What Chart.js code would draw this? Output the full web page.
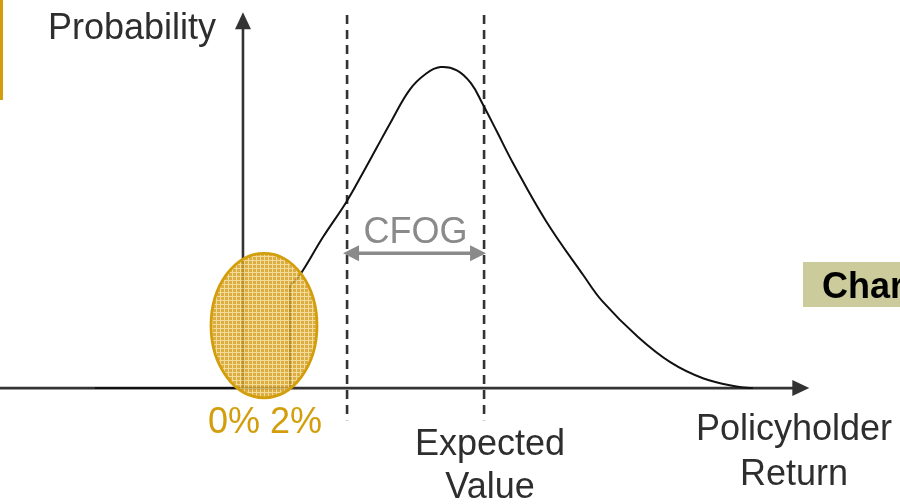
<!DOCTYPE html>
<html>
<head>
<meta charset="utf-8">
<script src="https://cdn.jsdelivr.net/npm/chart.js@4/dist/chart.umd.min.js"></script>
<style>
  body { margin: 0; background: #fff; }
  #wrap { width: 900px; height: 504px; position: relative; }
</style>
</head>
<body>
<div id="wrap"><canvas id="myChart"></canvas></div>
<script>
// policyholder return (%) and probability (peak = 1)
const tailReturn = [-6.3, 0, 2, 2]
const tailProb = [0, 0, 0, 0.32]
const curveReturn = [2, 2.4, 3.4, 4.4, 5.1, 5.7, 6.3, 7.1, 7.8, 8.4, 9.1, 9.7, 10.2, 10.8, 11.5, 12.9, 14.5, 15.3, 16.8, 18.2, 19.6, 21.0, 21.7]
const curveProb = [0.32, 0.35, 0.47, 0.58, 0.67, 0.75, 0.83, 0.93, 0.98, 1.0, 0.99, 0.95, 0.885, 0.80, 0.70, 0.52, 0.35, 0.27, 0.16, 0.08, 0.03, 0.005, 0]

const guaranteeLabels = ["0%", "2%"]
const cfogStart = 4.43
const expectedValue = 10.26
const highlightX = [-1.36, 3.15]
const highlightY = [-0.03, 0.42]

const FONT = '"Liberation Sans", Arial, sans-serif'
const GOLD = "#d39e0c"

function toPts(xs, ys){ return xs.map((x, i) => ({x: x, y: ys[i]})) }

function head(ctx, x, y, dx, dy, len, half){
  // arrow tip at x,y pointing in direction dx,dy
  const px = -dy, py = dx
  ctx.beginPath()
  ctx.moveTo(x, y)
  ctx.lineTo(x - dx*len + px*half, y - dy*len + py*half)
  ctx.lineTo(x - dx*len - px*half, y - dy*len - py*half)
  ctx.closePath()
  ctx.fill()
}

function makePattern(ctx){
  const c = document.createElement("canvas")
  c.width = 4; c.height = 4
  const p = c.getContext("2d")
  p.fillStyle = "#d6a020"
  p.fillRect(0, 0, 4, 4)
  p.fillStyle = "#f0d58a"
  p.fillRect(0, 0, 4, 1)
  p.fillRect(0, 0, 1, 4)
  return ctx.createPattern(c, "repeat")
}

const diagram = {
  id: "diagram",
  beforeDatasetsDraw(chart){
    const ctx = chart.ctx, xs = chart.scales.x, ys = chart.scales.y
    const X = v => xs.getPixelForValue(v), Y = v => ys.getPixelForValue(v)
    ctx.save()
    // left gold bar
    ctx.fillStyle = GOLD
    ctx.fillRect(0, 0, 3, 100)
    // dashed lines
    ctx.strokeStyle = "#333"
    ctx.lineWidth = 2.6
    ctx.setLineDash([9, 6])
    ;[cfogStart, expectedValue].forEach(v => {
      ctx.beginPath()
      ctx.moveTo(X(v), Y(1.162))
      ctx.lineTo(X(v), Y(-0.1))
      ctx.stroke()
    })
    ctx.setLineDash([])
    // axes
    ctx.strokeStyle = "#333"
    ctx.fillStyle = "#333"
    ctx.lineWidth = 2.6
    ctx.beginPath()
    ctx.moveTo(0, Y(0)); ctx.lineTo(X(23.6), Y(0))
    ctx.moveTo(X(0), Y(0)); ctx.lineTo(X(0), Y(1.13))
    ctx.stroke()
    head(ctx, X(24.1), Y(0), 1, 0, 17, 8)
    head(ctx, X(0), Y(1.171), 0, -1, 17, 8)
    // CFOG arrow
    const ay = Y(0.42)
    ctx.strokeStyle = "#8a8a8a"
    ctx.fillStyle = "#8a8a8a"
    ctx.lineWidth = 3.5
    ctx.beginPath()
    ctx.moveTo(X(cfogStart) + 8, ay); ctx.lineTo(X(expectedValue) - 8, ay)
    ctx.stroke()
    head(ctx, X(cfogStart) - 4, ay, -1, 0, 16, 8)
    head(ctx, X(expectedValue) + 2, ay, 1, 0, 16, 8)
    ctx.restore()
  },
  afterDatasetsDraw(chart){
    const ctx = chart.ctx, xs = chart.scales.x, ys = chart.scales.y
    const X = v => xs.getPixelForValue(v), Y = v => ys.getPixelForValue(v)
    ctx.save()
    // highlight ellipse round the guarantee
    const x0 = X(highlightX[0]), x1 = X(highlightX[1])
    const y0 = Y(highlightY[1]), y1 = Y(highlightY[0])
    ctx.beginPath()
    ctx.ellipse((x0+x1)/2, (y0+y1)/2, (x1-x0)/2, (y1-y0)/2, 0, 0, Math.PI*2)
    ctx.globalAlpha = 0.85
    ctx.fillStyle = makePattern(ctx)
    ctx.fill()
    ctx.globalAlpha = 1
    ctx.strokeStyle = GOLD
    ctx.lineWidth = 2.8
    ctx.stroke()
    // texts
    ctx.textAlign = "center"
    ctx.textBaseline = "alphabetic"
    ctx.font = "36px " + FONT
    ctx.fillStyle = "#2e2e2e"
    ctx.fillText("Probability", 132, 39)
    ctx.fillText("Expected", X(expectedValue) + 6, 455)
    ctx.fillText("Value", X(expectedValue) + 6, 498)
    ctx.fillText("Policyholder", 794, 440)
    ctx.fillText("Return", 794, 485)
    ctx.fillStyle = "#8a8a8a"
    ctx.fillText("CFOG", (X(cfogStart) + X(expectedValue))/2, 243)
    ctx.fillStyle = GOLD
    ctx.textAlign = "left"
    ctx.fillText(guaranteeLabels[0] + " " + guaranteeLabels[1], 208, 433)
    // side box
    ctx.fillStyle = "#cbcb9b"
    ctx.fillRect(803, 262, 100, 45)
    ctx.fillStyle = "#000"
    ctx.font = "bold 36px " + FONT
    ctx.fillText("Char", 822, 298)
    ctx.restore()
  }
}

window.onload = function(){
  const ctx = document.getElementById("myChart")
  new Chart(ctx, {
    type: "line",
    data: {
      datasets: [{
        data: toPts(tailReturn, tailProb),
        borderColor: "#111",
        borderWidth: 2,
        pointRadius: 0,
        tension: 0,
        fill: false
      }, {
        data: toPts(curveReturn, curveProb),
        borderColor: "#111",
        borderWidth: 2,
        pointRadius: 0,
        tension: 0.4,
        fill: false
      }]
    },
    options: {
      responsive: true,
      maintainAspectRatio: false,
      animation: false,
      layout: {padding: 0},
      scales: {
        x: {type: "linear", min: -10.34, max: 27.96, display: false},
        y: {type: "linear", min: -0.361, max: 1.209, display: false}
      },
      plugins: {legend: {display: false}, tooltip: {enabled: false}}
    },
    plugins: [diagram]
  })
}
</script>
</body>
</html>
